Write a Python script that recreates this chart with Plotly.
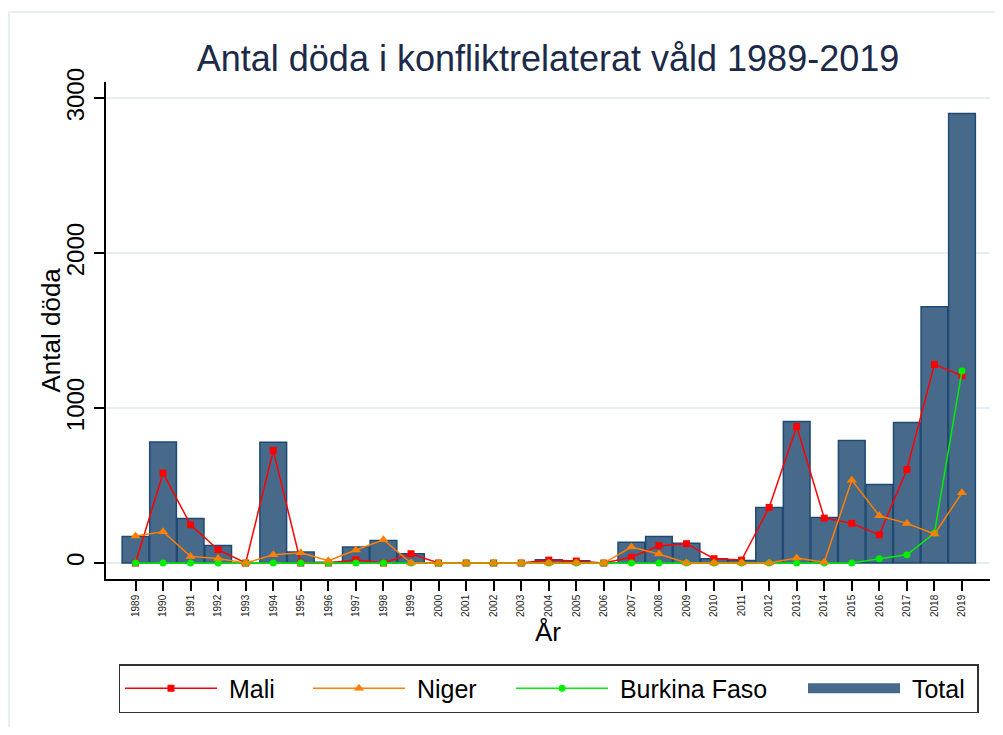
import plotly.graph_objects as go

years = list(range(1989, 2020))
total = [172, 781, 288, 114, 0, 780, 71, 5, 103, 146, 60, 0, 0, 0, 0, 22, 15, 0,
         135, 172, 127, 28, 17, 359, 914, 294, 791, 507, 907, 1655, 2901]
mali = [0, 581, 247, 86, 0, 727, 0, 0, 21, 0, 60, 0, 0, 0, 0, 19, 13, 0,
        37, 112, 125, 28, 19, 359, 881, 290, 256, 182, 604, 1282, 1210]
niger = [174, 202, 43, 30, 0, 54, 66, 15, 84, 150, 0, 0, 0, 0, 0, 0, 0, 0,
         103, 58, 0, 0, 0, 0, 32, 5, 535, 305, 256, 187, 453]
burkina = [0, 0, 0, 0, 0, 0, 0, 0, 0, 0, 0, 0, 0, 0, 0, 0, 0, 0,
           0, 0, 0, 0, 0, 0, 0, 0, 0, 27, 53, 194, 1240]
year_labels = [str(y) for y in years]
y_ticks = [0, 1000, 2000, 3000]

FONT = "Liberation Sans, Arial, sans-serif"
BAR_FILL = "#476a8a"
NB = "\u00a0"

# page has an 8px body margin; figure is sized to fit inside the 1003x735 window
OFF = 8
W, H = 1003 - 2 * OFF, 735 - 2 * OFF
PL, PR, PT, PB = 106, 990, 82, 579  # plot area in page pixels
PW, PH = PR - PL, PB - PT


def px_x(p):
    return (p - PL) / PW


def px_y(p):
    return (PB - p) / PH


fig = go.Figure()
fig.add_trace(go.Bar(
    x=years, y=total, name="Total", showlegend=False,
    marker=dict(color=BAR_FILL, line=dict(color="#1f4a73", width=1.5)),
    width=0.97,
))
fig.add_trace(go.Scatter(
    x=years, y=mali, name=NB + "Mali", mode="lines+markers", legendrank=1,
    legendwidth=81,
    line=dict(color="#ff0000", width=1.5),
    marker=dict(symbol="square", size=7, color="#ff0000"),
))
fig.add_trace(go.Scatter(
    x=years, y=burkina, name=NB + "Burkina Faso", mode="lines+markers", legendrank=3,
    legendwidth=185,
    line=dict(color="#00ee00", width=1.5),
    marker=dict(symbol="circle", size=7, color="#00ee00"),
))
fig.add_trace(go.Scatter(
    x=years, y=niger, name=NB + "Niger", mode="lines+markers", legendrank=2,
    legendwidth=96,
    line=dict(color="#ff7f00", width=1.5),
    marker=dict(symbol="triangle-up", size=9, color="#ff7f00"),
))
# legend key for the bars (wide filled block like the original)
fig.add_trace(go.Scatter(
    x=[None], y=[None], name=NB + "Total" + NB, mode="lines", legendrank=4,
    line=dict(color=BAR_FILL, width=26), hoverinfo="skip",
))

fig.update_layout(
    width=W, height=H,
    margin=dict(l=PL - OFF, r=OFF + W - PR, t=PT - OFF, b=OFF + H - PB),
    paper_bgcolor="white", plot_bgcolor="white",
    font=dict(family=FONT, color="#000000"),
    title=dict(text="Antal döda i konfliktrelaterat våld 1989-2019",
               x=0.5, xref="paper", xanchor="center",
               y=1 - (58 - OFF) / H, yref="container", yanchor="middle",
               font=dict(size=36, color="#1c2a4a", family=FONT)),
    bargap=0.02,
    showlegend=True,
    legend=dict(orientation="h", x=px_x(118.5), xanchor="left",
                y=px_y(664), yanchor="top",
                bordercolor="#333333", borderwidth=1.5,
                font=dict(size=25, family=FONT, color="#000000"),
                itemwidth=92, traceorder="normal",
                bgcolor="white"),
    xaxis=dict(
        range=[1987.929, 2020.017],
        tickmode="array", tickvals=years, ticktext=year_labels,
        tickangle=-90, tickfont=dict(size=10, color="#222222"),
        ticks="outside", ticklen=10, tickcolor="#000000", tickwidth=1.5,
        showline=True, linecolor="#000000", linewidth=1.5,
        showgrid=False, zeroline=False,
        title=dict(text="År", font=dict(size=26, color="#000000"), standoff=4),
    ),
    yaxis=dict(
        range=[-103, 3105],
        tickmode="array", tickvals=y_ticks, ticktext=[str(v) for v in y_ticks],
        tickangle=-90, tickfont=dict(size=24, color="#000000"),
        ticks="outside", ticklen=10, tickcolor="#000000", tickwidth=1.5,
        ticklabelstandoff=1,
        showline=True, linecolor="#000000", linewidth=1.5,
        showgrid=True, gridcolor="#e6eff1", gridwidth=1.5,
        zeroline=False,
    ),
    annotations=[dict(text="Antal döda", textangle=-90, showarrow=False,
                      xref="paper", yref="paper", x=px_x(50), y=0.5,
                      xanchor="center", yanchor="middle",
                      font=dict(size=26, color="#000000", family=FONT))],
    shapes=[dict(type="rect", xref="paper", yref="paper",
                 x0=px_x(9), x1=px_x(1010),
                 y0=px_y(760), y1=px_y(12),
                 line=dict(color="#e6eff1", width=2), fillcolor="rgba(0,0,0,0)",
                 layer="below")],
)

fig.write_html("out.html")
